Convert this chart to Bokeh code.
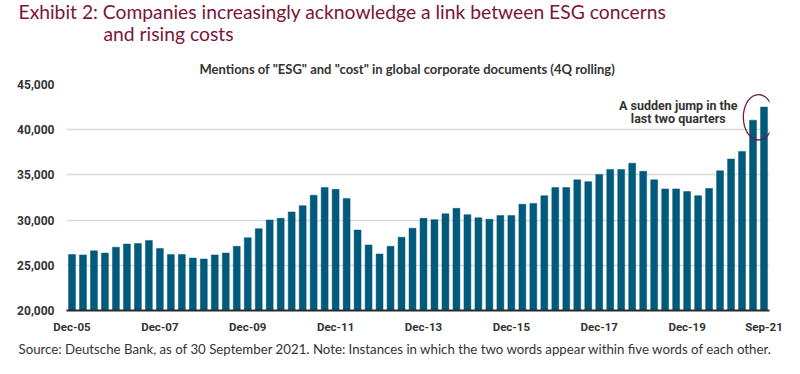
from bokeh.plotting import figure
from bokeh.models import Range1d, FixedTicker, Label, NumeralTickFormatter, Title
from bokeh.embed import file_html
from bokeh.resources import INLINE

# Quarterly values, Dec-05 .. Sep-21 (64 quarters)
mentions = [
    26200, 26150, 26600, 26350, 27000, 27350, 27400, 27750,
    26850, 26200, 26200, 25800, 25700, 26150, 26350, 27100,
    28050, 29050, 30000, 30200, 30900, 31600, 32750, 33600,
    33400, 32400, 28900, 27250, 26250, 27100, 28100, 29100,
    30200, 30050, 30700, 31300, 30600, 30250, 30100, 30500,
    30500, 31750, 31850, 32700, 33600, 33600, 34450, 34250,
    35050, 35600, 35600, 36300, 35400, 34450, 33450, 33450,
    33150, 32700, 33500, 35450, 36750, 37600, 41050, 42500,
]
tick_positions = [0, 8, 16, 24, 32, 40, 48, 56, 63]
tick_labels = ["Dec-05", "Dec-07", "Dec-09", "Dec-11", "Dec-13",
               "Dec-15", "Dec-17", "Dec-19", "Sep-21"]
y_ticks = [20000, 25000, 30000, 35000, 40000, 45000]

title_line1 = "Exhibit 2: Companies increasingly acknowledge a link between ESG concerns"
title_line2 = "and rising costs"
subtitle = 'Mentions of "ESG" and "cost" in global corporate documents (4Q rolling)'
source = ("Source: Deutsche Bank, as of 30 September 2021. Note: Instances in which "
          "the two words appear within five words of each other.")
annot1 = "A sudden jump in the"
annot2 = "last two quarters"

BAR = "#005a7b"
MAROON = "#7b1539"
DARK = "#333333"

x = list(range(len(mentions)))

p = figure(width=784, height=358, output_backend="svg", toolbar_location=None,
           x_range=Range1d(-0.5, len(mentions) - 0.5),
           y_range=Range1d(y_ticks[0], y_ticks[-1]),
           min_border_left=66, min_border_right=15,
           min_border_top=84, min_border_bottom=46)
p.title.visible = False
p.outline_line_color = None
p.background_fill_color = "white"
p.border_fill_color = "white"

p.xgrid.visible = False
p.ygrid.ticker = FixedTicker(ticks=y_ticks)
p.ygrid.grid_line_color = "#d9d9d9"
p.ygrid.grid_line_width = 1.5

p.vbar(x=x, top=mentions, bottom=y_ticks[0], width=0.63,
       fill_color=BAR, line_color=BAR, line_width=0.5)

# y axis
ya = p.yaxis[0]
ya.ticker = FixedTicker(ticks=y_ticks)
ya.formatter = NumeralTickFormatter(format="0,0")
ya.axis_line_color = None
ya.major_tick_line_color = None
ya.minor_tick_line_color = None
ya.major_tick_out = 0
ya.major_tick_in = 0
ya.major_label_standoff = 12
ya.major_label_text_font = "Roboto"
ya.major_label_text_font_style = "bold"
ya.major_label_text_font_size = "12px"
ya.major_label_text_color = DARK
ya.major_label_text_baseline = "alphabetic"

# x axis
xa = p.xaxis[0]
xa.ticker = FixedTicker(ticks=tick_positions)
xa.major_label_overrides = {t: l for t, l in zip(tick_positions, tick_labels)}
xa.axis_line_color = "#2b2b2b"
xa.axis_line_width = 2
xa.major_tick_line_color = None
xa.minor_tick_line_color = None
xa.major_tick_out = 0
xa.major_tick_in = 0
xa.major_label_standoff = 9
xa.major_label_text_font = "Roboto"
xa.major_label_text_font_style = "bold"
xa.major_label_text_font_size = "11.5px"
xa.major_label_text_color = DARK

# highlight ellipse around the last two quarters
cx = (x[-1] + x[-2]) / 2
cy = (mentions[-1] + mentions[-2]) / 2 - 400
p.ellipse(x=[cx], y=[cy], width=[2.76], height=[5030],
          fill_color=None, line_color="#6e1a44", line_width=1.3)

# annotation text
for txt, yy in ((annot1, 42660), (annot2, 41290)):
    p.add_layout(Label(x=55.2, y=yy, text=txt, text_align="center",
                       text_baseline="middle", text_font="Roboto",
                       text_font_style="bold", text_font_size="12.5px",
                       text_color=DARK))

# titles stacked above the frame (first added is closest to the frame)
p.add_layout(Title(text=subtitle, align="left", offset=133,
                   text_font="Lato", text_font_style="bold",
                   text_font_size="13px", text_color=DARK, standoff=16), "above")
p.add_layout(Title(text=title_line2, align="left", offset=37,
                   text_font="Lato", text_font_style="normal",
                   text_font_size="19.3px", text_color=MAROON, standoff=12), "above")
p.add_layout(Title(text=title_line1, align="left", offset=-48,
                   text_font="Lato", text_font_style="normal",
                   text_font_size="19.3px", text_color=MAROON, standoff=-18), "above")
# source note below the x axis
p.add_layout(Title(text=source, align="left", offset=-48,
                   text_font="Lato", text_font_style="normal",
                   text_font_size="13.25px", text_color=DARK, standoff=4), "below")

open("out.html", "w").write(file_html(p, INLINE))
